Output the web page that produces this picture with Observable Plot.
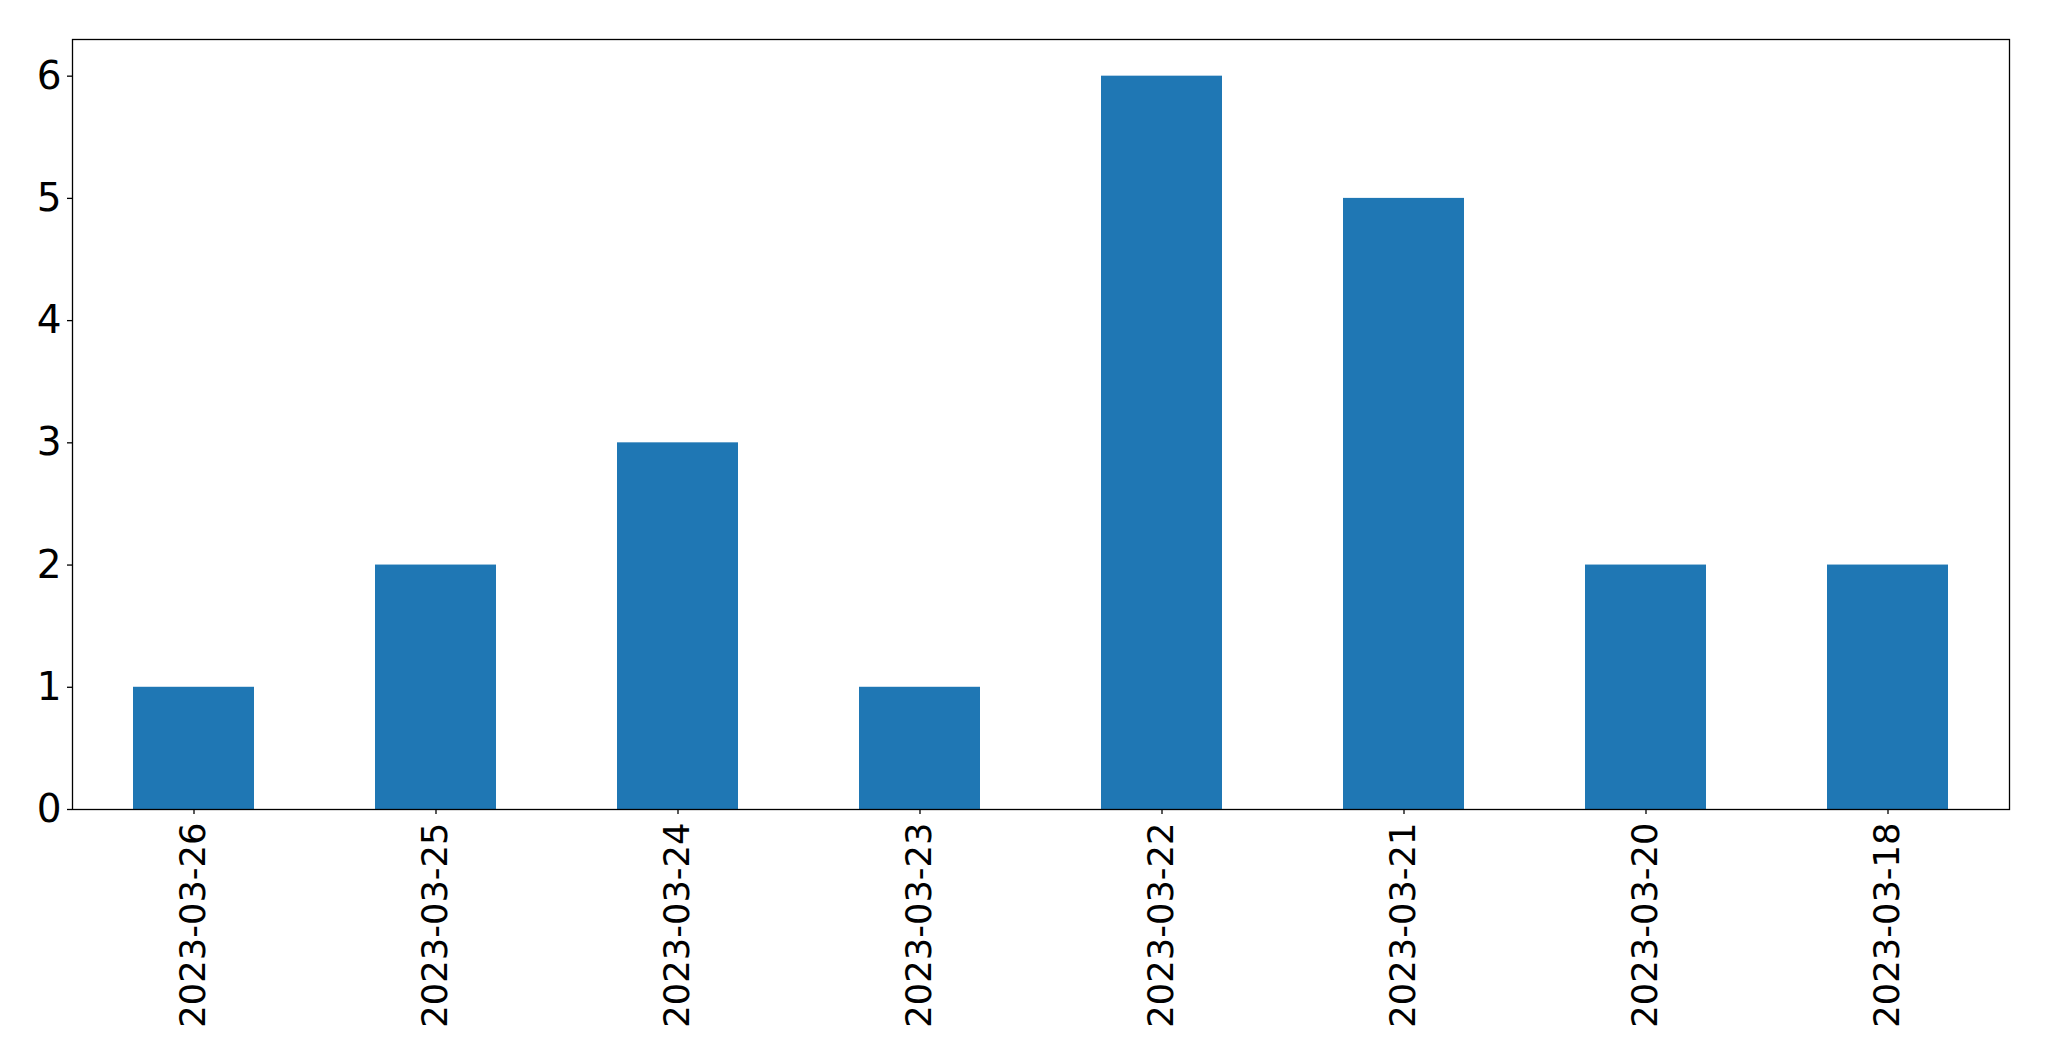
<!DOCTYPE html>
<html>
<head>
<meta charset="utf-8">
<script src="https://cdn.jsdelivr.net/npm/d3@7"></script>
<script src="https://cdn.jsdelivr.net/npm/@observablehq/plot@0.6"></script>
<style>
  html, body { margin: 0; padding: 0; background: #fff; }
  svg { display: block; }
</style>
</head>
<body>
<div id="chart"></div>
<script>
const categories = ["2023-03-26", "2023-03-25", "2023-03-24", "2023-03-23", "2023-03-22", "2023-03-21", "2023-03-20", "2023-03-18"];
const counts = [1, 2, 3, 1, 6, 5, 2, 2];
const yTicks = [0, 1, 2, 3, 4, 5, 6];

const data = categories.map((c, i) => ({date: c, count: counts[i]}));

const chart = Plot.plot({
  width: 2049,
  height: 1061,
  marginTop: 39,
  marginBottom: 252,
  marginLeft: 72,
  marginRight: 40,
  style: {fontFamily: "DejaVu Sans", background: "#fff", color: "#000"},
  x: {type: "band", domain: categories, paddingInner: 0.5, paddingOuter: 0.25, label: null},
  y: {domain: [0, 6.3], label: null},
  marks: [
    Plot.barY(data, {x: "date", y: "count", fill: "#1f77b4"}),
    Plot.frame({stroke: "#000", strokeWidth: 1.3}),
    Plot.axisY({ticks: yTicks, tickSize: 5, tickPadding: 6, fontSize: 39, stroke: "#000", strokeWidth: 1.3, label: null, tickFormat: d => String(d)}),
    Plot.axisX({tickSize: 5, tickPadding: 8, tickRotate: -90, fontSize: 35.3, stroke: "#000", strokeWidth: 1.3, label: null})
  ]
});
document.getElementById("chart").appendChild(chart);
</script>
</body>
</html>
